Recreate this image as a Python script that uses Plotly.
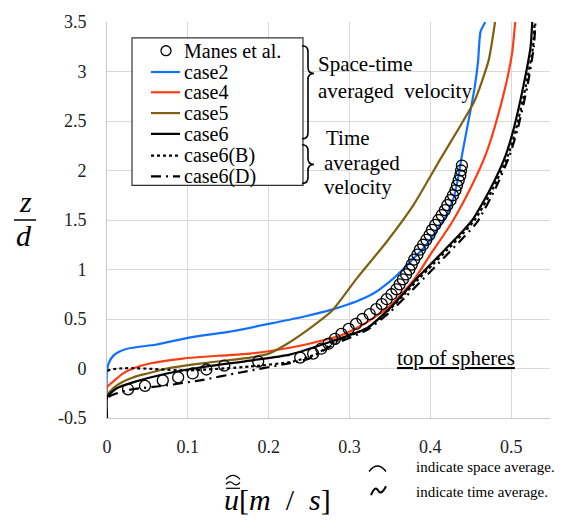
import plotly.graph_objects as go

# ---------------- data ----------------
manes_u = [0.026, 0.047, 0.069, 0.088, 0.106, 0.123, 0.145, 0.187, 0.239,
           0.255, 0.265, 0.274, 0.282, 0.290, 0.299, 0.308, 0.316, 0.325, 0.333,
           0.340, 0.346, 0.352, 0.358, 0.362, 0.366, 0.370, 0.374, 0.377, 0.380,
           0.384, 0.387, 0.391, 0.395, 0.399, 0.402, 0.406, 0.410, 0.414, 0.418,
           0.421, 0.425, 0.428, 0.431, 0.433, 0.435, 0.437, 0.438, 0.439]
manes_z = [-0.21, -0.175, -0.12, -0.09, -0.05, -0.01, 0.03, 0.07, 0.11,
           0.15, 0.20, 0.25, 0.30, 0.35, 0.40, 0.45, 0.50, 0.55, 0.60,
           0.65, 0.70, 0.75, 0.80, 0.85, 0.90, 0.95, 1.00, 1.05, 1.10,
           1.15, 1.20, 1.25, 1.30, 1.35, 1.40, 1.45, 1.50, 1.55, 1.60,
           1.65, 1.70, 1.75, 1.80, 1.85, 1.90, 1.95, 2.00, 2.05]

case2_u = [0, 0, 0.003, 0.008, 0.015, 0.025, 0.04, 0.06, 0.1, 0.15, 0.2, 0.247,
           0.28, 0.309, 0.33, 0.35, 0.366, 0.379, 0.393, 0.404, 0.42, 0.429, 0.434,
           0.439, 0.445, 0.45, 0.455, 0.459, 0.462, 0.468]
case2_z = [-0.5, -0.02, 0.07, 0.13, 0.17, 0.20, 0.22, 0.24, 0.31, 0.37, 0.45, 0.53,
           0.60, 0.68, 0.76, 0.88, 1.0, 1.11, 1.23, 1.35, 1.55, 1.73, 1.91,
           2.15, 2.41, 2.62, 2.85, 3.1, 3.40, 3.5]

case4_u = [0, 0, 0.008, 0.02, 0.032, 0.053, 0.094, 0.14, 0.177, 0.226, 0.25, 0.288,
           0.32, 0.35, 0.38, 0.40, 0.427, 0.449, 0.468, 0.48, 0.493, 0.501, 0.505]
case4_z = [-0.5, -0.19, -0.13, -0.05, 0.0, 0.05, 0.10, 0.13, 0.15, 0.21, 0.25, 0.33,
           0.46, 0.63, 0.90, 1.15, 1.48, 1.81, 2.15, 2.45, 2.85, 3.18, 3.5]

case5_u = [0, 0, 0.012, 0.032, 0.05, 0.074, 0.115, 0.177, 0.2, 0.223, 0.25, 0.278,
           0.309, 0.346, 0.379, 0.412, 0.437, 0.455, 0.472, 0.48]
case5_z = [-0.5, -0.27, -0.17, -0.09, -0.05, 0.0, 0.05, 0.11, 0.15, 0.25, 0.40, 0.58,
           0.91, 1.28, 1.65, 2.11, 2.45, 2.71, 3.11, 3.5]

case6_u = [0, 0, 0.012, 0.032, 0.074, 0.115, 0.177, 0.226, 0.28, 0.322, 0.35, 0.366,
           0.382, 0.40, 0.418, 0.437, 0.452, 0.474, 0.493, 0.503, 0.515, 0.524, 0.526]
case6_z = [-0.5, -0.29, -0.2, -0.14, -0.05, 0.01, 0.08, 0.14, 0.28, 0.41, 0.61, 0.75,
           0.90, 1.05, 1.20, 1.36, 1.50, 1.81, 2.15, 2.42, 2.85, 3.25, 3.5]

case6B_u = [0, 0, 0.1, 0.177, 0.23, 0.26, 0.28, 0.322, 0.35, 0.368, 0.385, 0.403,
            0.421, 0.44, 0.455, 0.477, 0.496, 0.506, 0.518, 0.527, 0.529]
case6B_z = [-0.5, -0.03, -0.02, 0.02, 0.07, 0.15, 0.26, 0.41, 0.60, 0.75, 0.90, 1.05,
            1.20, 1.36, 1.50, 1.81, 2.15, 2.42, 2.85, 3.25, 3.5]

case6D_u = [0, 0, 0.025, 0.074, 0.115, 0.165, 0.223, 0.25, 0.28, 0.322, 0.35, 0.369,
            0.387, 0.405, 0.424, 0.443, 0.458, 0.48, 0.498, 0.508, 0.52, 0.528, 0.53]
case6D_z = [-0.5, -0.3, -0.22, -0.17, -0.12, -0.04, 0.05, 0.1, 0.24, 0.39, 0.57, 0.72,
            0.87, 1.02, 1.18, 1.34, 1.48, 1.81, 2.15, 2.42, 2.85, 3.25, 3.5]

x_tickvals = [0, 0.1, 0.2, 0.3, 0.4, 0.5]
x_ticktext = ["0", "0.1", "0.2", "0.3", "0.4", "0.5"]
y_tickvals = [-0.5, 0, 0.5, 1, 1.5, 2, 2.5, 3, 3.5]
y_ticktext = ["-0.5", "0", "0.5", "1", "1.5", "2", "2.5", "3", "3.5"]

legend_labels = ["Manes et al.", "case2", "case4", "case5", "case6", "case6(B)", "case6(D)"]

# ---------------- styles ----------------
BLUE = "#1070FF"
RED = "#FF3B10"
OLIVE = "#806010"
BLACK = "#000000"
SERIF = "Liberation Serif, Times New Roman, Times, serif"
DASHDOT = "10px,5px,2px,5px"

W, H = 565, 520
L, R, T, B = 107, 15, 18, 102
PW, PH = W - L - R, H - T - B


def px(x):
    return (x - L) / PW


def py(y):
    return (H - B - y) / PH


fig = go.Figure()

series = [
    (case2_u, case2_z, BLUE, "solid", 2.2),
    (case4_u, case4_z, RED, "solid", 2.2),
    (case5_u, case5_z, OLIVE, "solid", 2.2),
    (case6_u, case6_z, BLACK, "solid", 2.2),
    (case6B_u, case6B_z, BLACK, "dot", 2.2),
    (case6D_u, case6D_z, BLACK, DASHDOT, 2.2),
]
for (u, z, c, d, w), name in zip(series, legend_labels[1:]):
    fig.add_trace(go.Scatter(x=u, y=z, mode="lines", name=name, showlegend=False,
                             line=dict(color=c, dash=d, width=w, shape="spline", smoothing=0.6)))

fig.add_trace(go.Scatter(x=manes_u, y=manes_z, mode="markers", name=legend_labels[0],
                         showlegend=False, cliponaxis=False,
                         marker=dict(symbol="circle-open", size=11, color=BLACK,
                                     line=dict(width=1.3, color=BLACK))))

shapes = []
ann = []

# legend box
shapes.append(dict(type="rect", xref="paper", yref="paper", x0=px(132), x1=px(303),
                   y0=py(183), y1=py(34), line=dict(color="#333333", width=1.2),
                   fillcolor="white", layer="above"))
row_y = [47, 68.5, 89, 110, 131, 153, 174]
shapes.append(dict(type="circle", xref="paper", yref="paper", x0=px(161), x1=px(171),
                   y0=py(52), y1=py(42), line=dict(color=BLACK, width=1.3), layer="above"))
leg_styles = [(BLUE, "solid"), (RED, "solid"), (OLIVE, "solid"), (BLACK, "solid"),
              (BLACK, "dot"), (BLACK, DASHDOT)]
for (c, d), yy in zip(leg_styles, row_y[1:]):
    shapes.append(dict(type="line", xref="paper", yref="paper", x0=px(151), x1=px(180),
                       y0=py(yy), y1=py(yy), line=dict(color=c, dash=d, width=2.2),
                       layer="above"))
for lab, yy in zip(legend_labels, row_y):
    ann.append(dict(text=lab, xref="paper", yref="paper", x=px(182), y=py(yy),
                    xanchor="left", yanchor="middle", showarrow=False,
                    font=dict(family=SERIF, size=20, color=BLACK)))


def brace(x0, ytop, ytip, ybot, w=12, r=6):
    xm = x0 + w / 2
    pts = [
        f"M {px(x0)},{py(ytop)}",
        f"Q {px(xm)},{py(ytop)} {px(xm)},{py(ytop + r)}",
        f"L {px(xm)},{py(ytip - r)}",
        f"Q {px(xm)},{py(ytip)} {px(x0 + w)},{py(ytip)}",
        f"Q {px(xm)},{py(ytip)} {px(xm)},{py(ytip + r)}",
        f"L {px(xm)},{py(ybot - r)}",
        f"Q {px(xm)},{py(ybot)} {px(x0)},{py(ybot)}",
    ]
    return dict(type="path", xref="paper", yref="paper", path=" ".join(pts),
                line=dict(color=BLACK, width=1.6), layer="above")


shapes.append(brace(302, 42, 70, 136))
shapes.append(brace(302, 142, 162, 181))

for txt, xx, yy in [("Space-time", 316, 60), ("averaged\u00a0 velocity", 316, 88),
                    ("Time", 324, 135), ("averaged", 322, 160), ("velocity", 322, 185)]:
    ann.append(dict(text=txt, xref="paper", yref="paper", x=px(xx), y=py(yy),
                    xanchor="left", yanchor="middle", showarrow=False,
                    font=dict(family=SERIF, size=21, color=BLACK)))

ann.append(dict(text="<u>top of spheres</u>", xref="paper", yref="paper", x=px(395), y=py(357),
                xanchor="left", yanchor="middle", showarrow=False,
                font=dict(family=SERIF, size=21, color=BLACK)))

# y-axis label z/d
ann.append(dict(text="<i>z</i>", xref="paper", yref="paper", x=px(25), y=py(199),
                xanchor="center", yanchor="middle", showarrow=False,
                font=dict(family=SERIF, size=30, color=BLACK)))
ann.append(dict(text="<i>d</i>", xref="paper", yref="paper", x=px(24), y=py(234),
                xanchor="center", yanchor="middle", showarrow=False,
                font=dict(family=SERIF, size=30, color=BLACK)))
shapes.append(dict(type="line", xref="paper", yref="paper", x0=px(14), x1=px(36),
                   y0=py(218), y1=py(218), line=dict(color=BLACK, width=1.5)))

# x-axis label
XL_Y = 500
ann.append(dict(text="<i>u</i>[<i>m</i>\u2002/\u2002<i>s</i>]", xref="paper", yref="paper",
                x=px(222), y=py(XL_Y), xanchor="left", yanchor="middle", showarrow=False,
                font=dict(family=SERIF, size=30, color=BLACK)))
# decorations above u
d0 = XL_Y - 506
shapes.append(dict(type="path", xref="paper", yref="paper",
                   path=(f"M {px(226)},{py(486 + d0)} Q {px(233)},{py(478 + d0)} "
                         f"{px(240)},{py(486 + d0)}"),
                   line=dict(color=BLACK, width=1.2)))
shapes.append(dict(type="path", xref="paper", yref="paper",
                   path=(f"M {px(226)},{py(491 + d0)} Q {px(229.5)},{py(486.5 + d0)} "
                         f"{px(233)},{py(490 + d0)} "
                         f"Q {px(236.5)},{py(493.5 + d0)} {px(240)},{py(489 + d0)}"),
                   line=dict(color=BLACK, width=1.2)))
shapes.append(dict(type="line", xref="paper", yref="paper", x0=px(226), x1=px(240),
                   y0=py(495 + d0), y1=py(495 + d0), line=dict(color=BLACK, width=1.2)))

# notes on the right
shapes.append(dict(type="path", xref="paper", yref="paper",
                   path=f"M {px(369)},{py(472)} Q {px(377.5)},{py(461)} {px(386)},{py(472)}",
                   line=dict(color=BLACK, width=1.4)))
shapes.append(dict(type="path", xref="paper", yref="paper",
                   path=(f"M {px(371)},{py(496)} Q {px(375)},{py(486)} {px(378)},{py(491)} "
                         f"Q {px(381)},{py(497)} {px(386)},{py(487)}"),
                   line=dict(color=BLACK, width=2)))
for txt, yy in [("indicate space average.", 467), ("indicate time average.", 493)]:
    ann.append(dict(text=txt, xref="paper", yref="paper", x=px(414), y=py(yy),
                    xanchor="left", yanchor="middle", showarrow=False,
                    font=dict(family=SERIF, size=15, color=BLACK)))

fig.update_layout(
    width=W, height=H, autosize=False,
    margin=dict(l=L, r=R, t=T, b=B, pad=0),
    paper_bgcolor="white", plot_bgcolor="white",
    showlegend=False,
    shapes=shapes, annotations=ann,
    xaxis=dict(range=[0, 0.548], tickvals=x_tickvals, ticktext=x_ticktext,
               showgrid=True, gridcolor="#d9d9d9", gridwidth=1, zeroline=False,
               showline=True, linecolor="#c8c8c8", linewidth=1, ticks="",
               ticklabelstandoff=12,
               tickfont=dict(family=SERIF, size=18, color="#222222")),
    yaxis=dict(range=[-0.5, 3.5], tickvals=y_tickvals, ticktext=y_ticktext,
               showgrid=True, gridcolor="#d9d9d9", gridwidth=1, zeroline=False,
               showline=True, linecolor="#c8c8c8", linewidth=1, ticks="",
               ticklabelstandoff=16,
               tickfont=dict(family=SERIF, size=18, color="#222222")),
)

fig.write_html("out.html")
